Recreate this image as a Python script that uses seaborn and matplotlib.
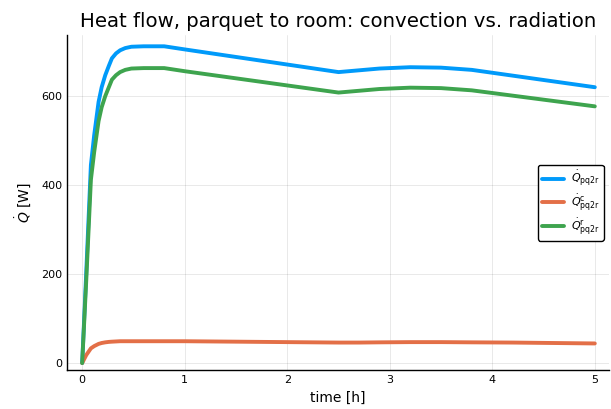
import numpy as np
import pandas as pd
import seaborn as sns
import matplotlib
matplotlib.use("Agg")
import matplotlib.pyplot as plt

# --- data ---
time_h = [0.0, 0.04, 0.085, 0.117, 0.16, 0.19, 0.225, 0.26, 0.29, 0.33, 0.37,
          0.42, 0.48, 0.6, 0.8, 1.0, 1.5, 2.0, 2.5, 2.7, 2.9, 3.2, 3.5,
          3.8, 4.2, 4.6, 5.0]
q_total = [0, 205, 445, 512, 587, 620, 647, 668, 685, 696, 703,
           708, 711, 712, 712, 705, 688, 671, 654, 658, 662, 665, 664,
           659, 646, 633, 620]
q_conv = [0, 18, 33, 38, 43, 45, 46.5, 47.5, 48, 48.5, 49,
          49, 49, 49, 49, 49, 48, 47, 46, 46, 46.5, 47, 47,
          46.5, 46, 45, 44]
q_rad = [0, 187, 412, 474, 544, 575, 600, 620, 637, 647, 654,
         659, 662, 663, 663, 656, 640, 624, 608, 612, 616, 619, 618,
         613, 601, 589, 577]

labels = [r"$\dot{Q}_{\rm pq2r}$", r"$\dot{Q}^{\rm c}_{\rm pq2r}$", r"$\dot{Q}^{\rm r}_{\rm pq2r}$"]
colors = ["#009AFA", "#E36F47", "#3EA44E"]

sns.set_style("white")
plt.rcParams["font.family"] = ["DejaVu Sans"]
plt.rcParams.update({"text.color": "black", "axes.labelcolor": "black",
                     "xtick.color": "black", "ytick.color": "black"})

fig = plt.figure(figsize=(6.11, 4.09), dpi=100)
ax = fig.add_axes([0.11, 0.095, 0.887, 0.819])

for series, lab, col in zip([q_total, q_conv, q_rad], labels, colors):
    sns.lineplot(x=time_h, y=series, ax=ax, color=col, linewidth=2.8, label=lab)

ax.set_xlim(-0.146, 5.14)
ax.set_ylim(-16, 737)
ax.set_xticks([0, 1, 2, 3, 4, 5])
ax.set_yticks([0, 200, 400, 600])
ax.grid(True, color="black", alpha=0.1, linewidth=0.6)
ax.tick_params(direction="in", length=3, labelsize=8, color="black")
for side in ["top", "right"]:
    ax.spines[side].set_visible(False)
for side in ["left", "bottom"]:
    ax.spines[side].set_color("black")
    ax.spines[side].set_linewidth(1.0)

ax.set_xlabel("time [h]", fontsize=10)
ax.set_ylabel(r"$\dot{Q}$ [W]", fontsize=10, labelpad=6)
ax.set_title("Heat flow, parquet to room: convection vs. radiation", fontsize=14.2)

leg = ax.legend(loc="center right", bbox_to_anchor=(1.0, 0.50), fontsize=8,
                frameon=True, edgecolor="black", fancybox=True,
                handlelength=2.0, labelspacing=0.3, borderpad=0.35,
                handletextpad=0.6)
leg.get_frame().set_linewidth(1.0)
leg.get_frame().set_alpha(1)

fig.savefig("out.png", dpi=100)
